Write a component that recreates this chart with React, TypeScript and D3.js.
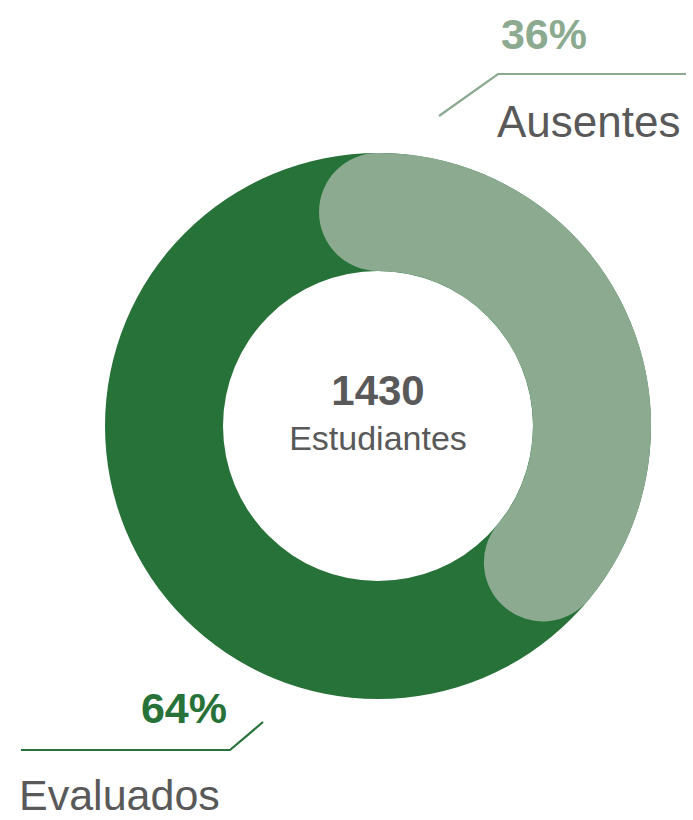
import React, { useEffect, useRef } from 'react';
import * as d3 from 'd3';

// data
const categories = ['Ausentes', 'Evaluados'];
const shares = [36, 64];
const total = 1430;
const totalLabel = 'Estudiantes';
const colors = ['#8BAA90', '#277238'];

const App = () => {
  const ref = useRef<SVGSVGElement | null>(null);

  useEffect(() => {
    drawChart();
  }, []);

  const drawChart = () => {
    const svg = d3.select(ref.current);
    svg.selectAll('*').remove();

    const width = 693;
    const height = 820;
    const cx = 378;
    const cy = 426;
    const outerR = 273;
    const innerR = 155;
    const midR = (outerR + innerR) / 2;
    const band = outerR - innerR;
    const font = '"Liberation Sans", Arial, sans-serif';
    const textColor = '#595959';

    svg.attr('width', width).attr('height', height);

    const g = svg.append('g').attr('transform', `translate(${cx}, ${cy})`);

    // angle scale: percent -> radians (0 = 12 o'clock, clockwise)
    const angle = d3.scaleLinear().domain([0, 100]).range([0, 2 * Math.PI]);

    // full ring in the big slice colour
    const ring = d3.arc<any>().innerRadius(innerR).outerRadius(outerR);
    g.append('path')
      .attr('d', ring({ startAngle: 0, endAngle: 2 * Math.PI }) as string)
      .attr('fill', colors[1]);

    // small slice drawn as an open thick stroke with round caps
    const p = d3.path();
    const a0 = angle(0) - Math.PI / 2;
    const a1 = angle(shares[0]) - Math.PI / 2;
    p.moveTo(midR * Math.cos(a0), midR * Math.sin(a0));
    p.arc(0, 0, midR, a0, a1, false);
    g.append('path')
      .attr('d', p.toString())
      .attr('fill', 'none')
      .attr('stroke', colors[0])
      .attr('stroke-width', band)
      .attr('stroke-linecap', 'round');

    // center text
    g.append('text')
      .attr('x', 0)
      .attr('y', -21)
      .attr('text-anchor', 'middle')
      .attr('font-family', font)
      .attr('font-weight', 'bold')
      .attr('font-size', 42)
      .attr('fill', textColor)
      .text(d3.format('d')(total));
    g.append('text')
      .attr('x', 0)
      .attr('y', 24)
      .attr('text-anchor', 'middle')
      .attr('font-family', font)
      .attr('font-size', 34)
      .attr('fill', textColor)
      .text(totalLabel);

    // Ausentes label (top right)
    svg.append('path')
      .attr('d', d3.line()([[439, 116], [498, 74], [686, 74]]) as string)
      .attr('fill', 'none')
      .attr('stroke', colors[0])
      .attr('stroke-width', 2.2);
    svg.append('text')
      .attr('x', 587)
      .attr('y', 49)
      .attr('text-anchor', 'end')
      .attr('font-family', font)
      .attr('font-weight', 'bold')
      .attr('font-size', 43)
      .attr('fill', colors[0])
      .text(`${shares[0]}%`);
    svg.append('text')
      .attr('x', 497)
      .attr('y', 137)
      .attr('font-family', font)
      .attr('font-size', 44)
      .attr('fill', textColor)
      .text(categories[0]);

    // Evaluados label (bottom left)
    svg.append('path')
      .attr('d', d3.line()([[21, 750], [230, 750], [263, 722]]) as string)
      .attr('fill', 'none')
      .attr('stroke', colors[1])
      .attr('stroke-width', 2.2);
    svg.append('text')
      .attr('x', 227)
      .attr('y', 723)
      .attr('text-anchor', 'end')
      .attr('font-family', font)
      .attr('font-weight', 'bold')
      .attr('font-size', 43)
      .attr('fill', colors[1])
      .text(`${shares[1]}%`);
    svg.append('text')
      .attr('x', 19)
      .attr('y', 810)
      .attr('font-family', font)
      .attr('font-size', 43)
      .attr('fill', textColor)
      .text(categories[1]);
  };

  return (
    <svg ref={ref} style={{ position: 'absolute', left: 0, top: 0, display: 'block' }} />
  );
};

export default App;
